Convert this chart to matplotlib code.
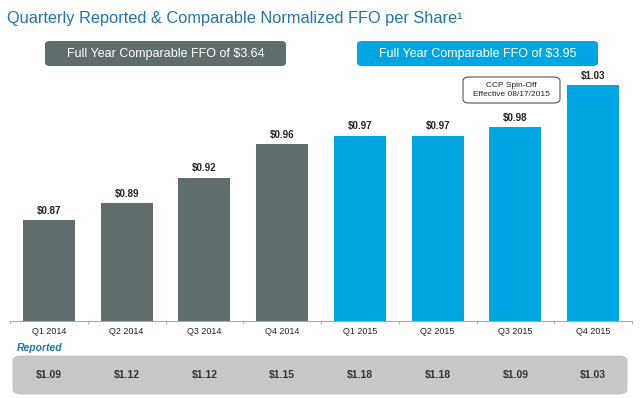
import matplotlib
matplotlib.use("Agg")
from matplotlib import pyplot as plt
from matplotlib.patches import FancyBboxPatch

plt.rcParams["font.family"] = ["Liberation Sans", "DejaVu Sans"]

# data
quarters = ["Q1 2014", "Q2 2014", "Q3 2014", "Q4 2014",
            "Q1 2015", "Q2 2015", "Q3 2015", "Q4 2015"]
comparable = [0.87, 0.89, 0.92, 0.96, 0.97, 0.97, 0.98, 1.03]
reported = [1.09, 1.12, 1.12, 1.15, 1.18, 1.18, 1.09, 1.03]
years = [2014, 2014, 2014, 2014, 2015, 2015, 2015, 2015]
full_year = {2014: 3.64, 2015: 3.95}

GRAY = "#5f6d6d"
BLUE = "#00a6e2"
TITLE_BLUE = "#1f74b4"

W, H = 640, 398
fig = plt.figure(figsize=(6.4, 3.98), dpi=100)


def fx(px):
    return px / W


def fy(py):
    return 1 - py / H


# bar axes: baseline at y=321px, spans x 10..632px
ax = fig.add_axes([fx(10), fy(321), fx(622), (321 - 40) / H])
colors = [GRAY if y == 2014 else BLUE for y in years]
x = range(len(quarters))
ax.bar(x, comparable, width=0.67, color=colors, bottom=0)
ax.set_xlim(-0.5, len(quarters) - 0.5)
ax.set_ylim(0.75, 0.75 + 281 / 843)

for i, v in enumerate(comparable):
    ax.text(i, v + 0.005, f"${v:.2f}", ha="center", va="bottom",
            fontsize=7, fontweight="bold", color="#222222")

for s in ["top", "right", "left"]:
    ax.spines[s].set_visible(False)
ax.spines["bottom"].set_color("#aaaaaa")
ax.spines["bottom"].set_linewidth(0.8)
ax.set_yticks([])
ax.set_xticks([i - 0.5 for i in range(len(quarters) + 1)])
ax.set_xticklabels([])
ax.tick_params(axis="x", length=2.5, color="#aaaaaa", width=0.6)
for i, q in enumerate(quarters):
    ax.text(i, 0.75 - 11 / 843, q, ha="center", va="center",
            fontsize=6.5, color="#222222")

# title
fig.text(fx(7), fy(18), "Quarterly Reported & Comparable Normalized FFO per Share\u00b9",
         fontsize=11.8, color=TITLE_BLUE, ha="left", va="center")

# full year boxes
box_spec = [(2014, 45, 286, GRAY), (2015, 357, 598, BLUE)]
for yr, x0, x1, c in box_spec:
    fig.patches.append(FancyBboxPatch(
        (fx(x0), fy(66)), fx(x1 - x0), (66 - 41) / H,
        boxstyle="round,pad=0,rounding_size=0.008", transform=fig.transFigure,
        facecolor=c, edgecolor="none"))
    fig.text(fx((x0 + x1) / 2), fy(53.5), f"Full Year Comparable FFO of ${full_year[yr]:.2f}",
             fontsize=9, color="white", ha="center", va="center")

# spin-off note
fig.patches.append(FancyBboxPatch(
    (fx(463), fy(103)), fx(97), 26 / H,
    boxstyle="round,pad=0,rounding_size=0.01", transform=fig.transFigure,
    facecolor="white", edgecolor="#555555", linewidth=0.8))
fig.text(fx(511.5), fy(90), "CCP Spin-Off\nEffective 08/17/2015", fontsize=6,
         color="#222222", ha="center", va="center", linespacing=1.3)

# reported row
fig.text(fx(17), fy(348), "Reported", fontsize=7.5, fontweight="bold",
         fontstyle="italic", color=TITLE_BLUE, ha="left", va="center")
fig.patches.append(FancyBboxPatch(
    (fx(13), fy(394)), fx(614), 38 / H,
    boxstyle="round,pad=0,rounding_size=0.012", transform=fig.transFigure,
    facecolor="#c7c8ca", edgecolor="#bbbbbb", linewidth=0.5))
for i, v in enumerate(reported):
    px = ax.transData.transform((i, 0.8))[0]
    fig.text(px / fig.dpi / 6.4, fy(375), f"${v:.2f}", fontsize=7.5,
             fontweight="bold", color="#333333", ha="center", va="center")

fig.savefig("out.png", dpi=100)
